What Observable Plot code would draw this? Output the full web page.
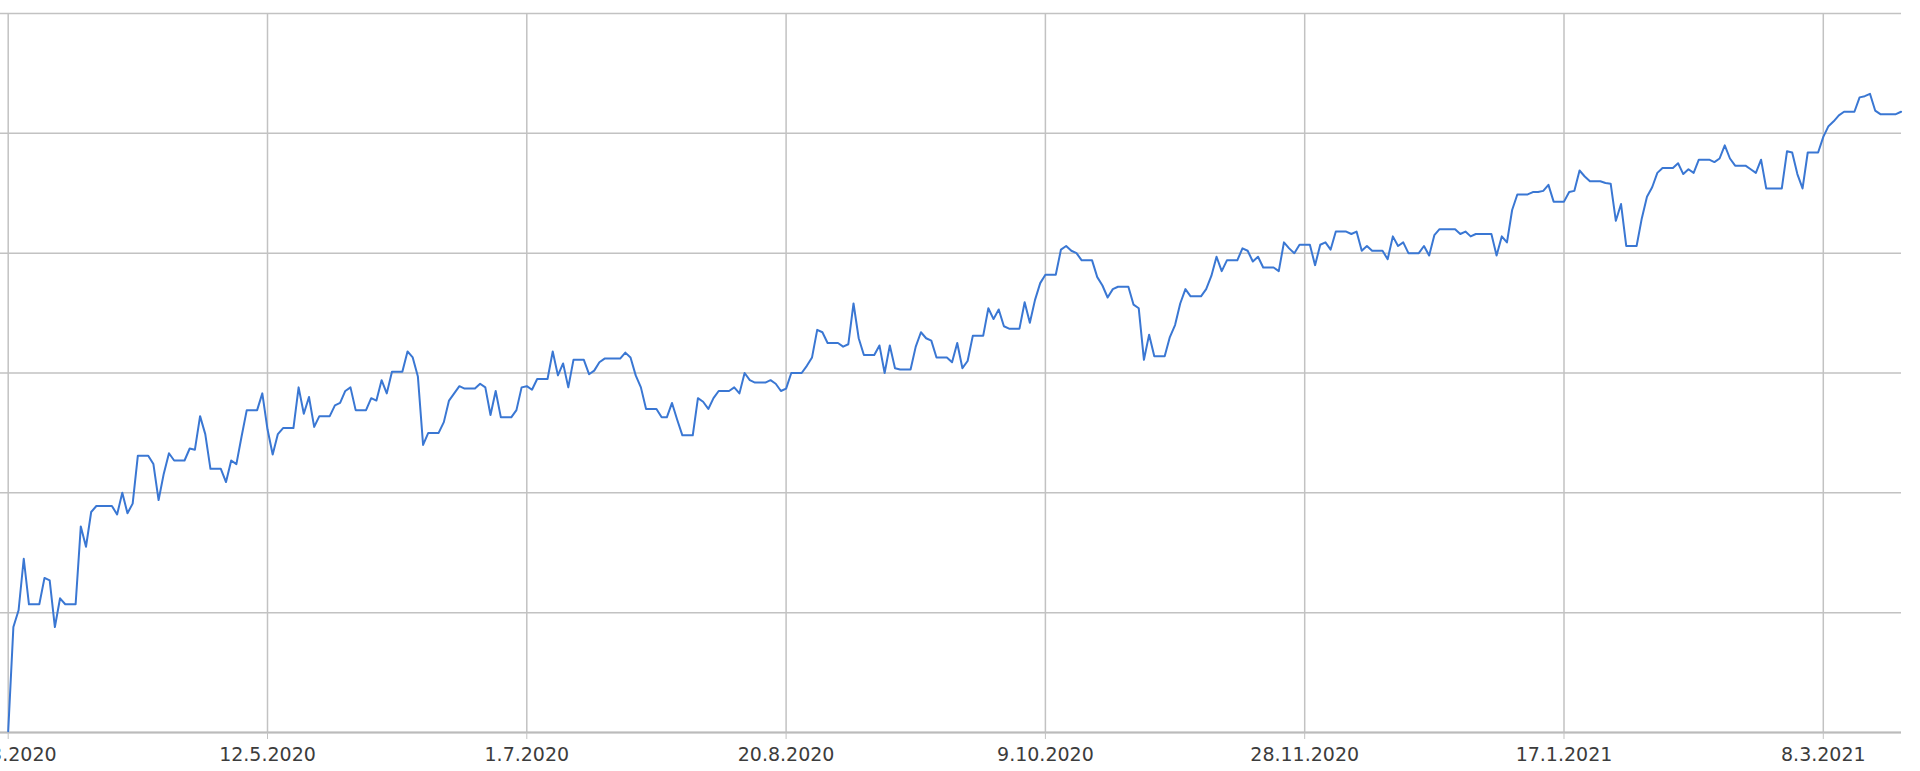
<!DOCTYPE html>
<html>
<head>
<meta charset="utf-8">
<script src="https://cdn.jsdelivr.net/npm/d3@7"></script>
<script src="https://cdn.jsdelivr.net/npm/@observablehq/plot@0.6"></script>
<style>
  html, body { margin: 0; padding: 0; background: #ffffff; overflow: hidden; }
  #chart svg { display: block; }
</style>
</head>
<body>
<div id="chart"></div>
<script>
// Series start date; each point is "days after start" with its value
const startDate = "2020-03-23";
const dayIndex = [
  0,1,2,3,4,6,7,8,9,10,11,13,14,15,16,17,20,21,22,23,24,25,27,28,29,30,31,32,34,35,36,37,38,39,41,42,43,44,45,46,48,49,50,51,52,53,55,56,57,58,59,60,62,
  63,64,65,66,67,69,70,71,72,73,74,76,77,78,79,80,81,83,84,85,86,87,88,90,91,92,93,94,95,97,98,99,100,101,102,104,105,106,107,108,109,111,112,113,114,115,118,119,120,121,122,
  123,125,126,127,128,129,130,132,133,134,135,136,137,139,140,141,142,143,144,146,147,148,149,150,151,153,154,155,156,157,158,160,161,162,163,164,165,167,168,169,170,171,172,174,175,176,177,178,179,181,182,183,184,185,
  186,188,189,190,191,192,193,195,196,197,198,199,200,202,203,204,205,206,207,209,210,211,212,213,214,216,217,218,219,220,221,223,224,225,226,227,228,230,231,232,233,234,235,237,238,239,240,241,242,244,245,
  246,247,248,249,251,252,253,254,255,256,258,259,260,261,262,263,265,266,267,268,269,270,272,273,274,275,276,279,280,281,282,283,286,287,288,289,290,291,293,294,295,296,297,298,300,301,302,303,304,
  305,307,308,309,310,311,312,314,315,316,317,318,319,321,322,323,324,325,326,328,329,330,331,332,333,335,336,337,338,339,342,343,344,345,346,347,349,350,351,352,353,354,356,357,358,359,360,361,364,365
];
const values = [
  0.1,8.8,10.2,14.5,10.7,10.7,12.9,12.7,8.8,11.2,10.7,10.7,17.2,15.5,18.4,18.9,18.9,18.2,20.0,18.3,19.1,23.1,23.1,22.4,19.4,21.6,23.3,22.7,22.7,23.7,23.6,26.4,24.9,22.0,22.0,20.9,22.7,22.4,24.7,26.9,26.9,28.3,25.3,23.2,24.9,25.4,25.4,28.8,26.6,28.0,25.5,26.4,26.4,
  27.3,27.5,28.5,28.8,26.9,26.9,27.9,27.7,29.4,28.3,30.1,30.1,31.8,31.3,29.7,24.0,25.0,25.0,25.9,27.7,28.3,28.9,28.7,28.7,29.1,28.8,26.5,28.5,26.3,26.3,26.9,28.8,28.9,28.6,29.5,29.5,31.8,29.8,30.8,28.8,31.1,31.1,29.9,30.2,30.9,31.2,31.2,31.7,31.3,29.8,28.8,
  27.0,27.0,26.3,26.3,27.5,26.1,24.8,24.8,27.9,27.6,27.0,27.9,28.5,28.5,28.8,28.3,30.0,29.4,29.2,29.2,29.4,29.1,28.5,28.7,30.0,30.0,30.6,31.3,33.6,33.4,32.5,32.5,32.2,32.4,35.8,32.9,31.5,31.5,32.3,30.0,32.3,30.4,30.3,30.3,32.2,33.4,32.9,32.7,31.3,31.3,30.9,32.5,30.4,31.0,
  33.1,33.1,35.4,34.5,35.3,33.9,33.7,33.7,35.9,34.2,36.1,37.5,38.2,38.2,40.3,40.6,40.2,40.0,39.4,39.4,38.0,37.3,36.3,37.0,37.2,37.2,35.7,35.4,31.1,33.2,31.4,31.4,33.0,34.0,35.8,37.0,36.4,36.4,37.0,38.1,39.7,38.5,39.4,39.4,40.4,40.2,39.3,39.7,38.8,38.8,38.5,
  40.9,40.4,40.0,40.7,40.7,39.0,40.7,40.9,40.3,41.8,41.8,41.6,41.8,40.2,40.6,40.2,40.2,39.5,41.4,40.6,40.9,40.0,40.0,40.6,39.8,41.5,42.0,42.0,41.6,41.8,41.4,41.6,41.6,39.8,41.4,40.9,43.6,44.9,44.9,45.1,45.1,45.2,45.7,44.3,44.3,45.1,45.2,46.9,46.4,
  46.0,46.0,45.85,45.8,42.7,44.1,40.6,40.6,42.9,44.7,45.5,46.7,47.1,47.1,47.5,46.6,47.0,46.7,47.8,47.8,47.6,47.9,49.0,47.9,47.3,47.3,47.0,46.7,47.8,45.4,45.4,48.5,48.4,46.6,45.4,48.4,48.4,49.7,50.6,51.0,51.5,51.8,51.8,53.0,53.1,53.3,51.9,51.6,51.6,51.8
];
// Axis tick labels (every 50 days) and horizontal grid levels
const tickLabels = ["23.3.2020","12.5.2020","1.7.2020","20.8.2020","9.10.2020","28.11.2020","17.1.2021","8.3.2021"];
const yGrid = [0, 10, 20, 30, 40, 50, 60];

const parseLabel = d3.utcParse("%d.%m.%Y");
const tickDates = tickLabels.map(parseLabel);
const fmt = d3.utcFormat("%-d.%-m.%Y");
const t0 = d3.utcParse("%Y-%m-%d")(startDate);
const data = dayIndex.map((d, i) => ({ date: d3.utcDay.offset(t0, d), value: values[i] }));

const xDomain = [new Date(+t0 - 1.485 * 864e5), new Date(+t0 + 365.08 * 864e5)];

const chart = Plot.plot({
  width: 1920,
  height: 771,
  marginTop: 13,
  marginBottom: 39,
  marginLeft: 0,
  marginRight: 19,
  style: { fontFamily: "'DejaVu Sans', Verdana, sans-serif", fontSize: "19px", background: "#ffffff", color: "#3c3c3c" },
  x: { type: "utc", domain: xDomain },
  y: { domain: [0, 60], axis: null },
  marks: [
    Plot.gridY(yGrid, { stroke: "#c2c2c2", strokeOpacity: 1, strokeWidth: 1.5 }),
    Plot.gridX(tickDates, { stroke: "#c2c2c2", strokeOpacity: 1, strokeWidth: 1.5 }),
    Plot.ruleY([0], { stroke: "#bbbbbb", strokeWidth: 2 }),
    Plot.axisX(tickDates, {
      tickSize: 7, tickPadding: 8, tickFormat: fmt, label: null,
      stroke: "#c2c2c2", fill: "#3c3c3c", fontSize: 19
    }),
    Plot.line(data, { x: "date", y: "value", stroke: "#3a77d3", strokeWidth: 2 })
  ]
});
document.getElementById("chart").appendChild(chart);
</script>
</body>
</html>
